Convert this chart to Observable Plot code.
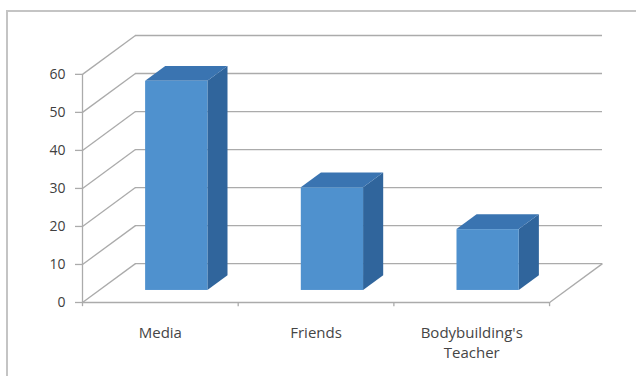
<!DOCTYPE html>
<html>
<head>
<meta charset="utf-8">
<script src="https://cdn.jsdelivr.net/npm/d3@7"></script>
<script src="https://cdn.jsdelivr.net/npm/@observablehq/plot@0.6"></script>
<style>
  html, body { margin: 0; padding: 0; background: #fff; overflow: hidden; }
  #wrap { position: relative; width: 636px; height: 376px; }
  #border { position: absolute; left: 6px; top: 10px; width: 700px; height: 500px;
            border: 2px solid #C4C4C4; box-sizing: border-box; }
  #chart { position: absolute; left: 0; top: 0; }
</style>
</head>
<body>
<div id="wrap"><div id="border"></div><div id="chart"></div></div>
<script>
// ---- data ----
const categories = ["Media", "Friends", "Bodybuilding's\nTeacher"];
const values = [55, 27, 16];
const yTicks = [0, 10, 20, 30, 40, 50, 60];

// ---- 3D projection settings (x in category units, y in value units) ----
const D = 0.34;     // full depth, x offset
const H = 10.22;    // full depth, y offset
const f0 = 0.31, f1 = 0.69; // bar depth slice
const hw = 0.2;     // half bar width

const bars = categories.map((c, i) => ({c, i, v: values[i]}));
const fronts = bars.map(b => ({c: b.c, x1: b.i - hw + f0 * D, x2: b.i + hw + f0 * D, y1: f0 * H, y2: b.v + f0 * H}));
const sides = bars.flatMap(b => [f0, f1].map(f => ({c: b.c, x: b.i + hw + f * D, y1: f * H, y2: b.v + f * H})));
const tops = bars.flatMap(b => [f0, f1].map(f => ({c: b.c, y: b.v + f * H, x1: b.i - hw + f * D, x2: b.i + hw + f * D})));
const boundaries = d3.range(-0.5, categories.length, 1);

const grid = "#ABABAB";
const chart = Plot.plot({
  width: 636,
  height: 376,
  marginLeft: 82,
  marginRight: 34,
  marginTop: 35,
  marginBottom: 74,
  style: {background: "transparent", overflow: "visible"},
  x: {type: "linear", domain: [-0.5, categories.length - 0.5 + D], axis: null},
  y: {type: "linear", domain: [0, 60 + H], axis: null},
  marks: [
    // back wall gridlines
    Plot.ruleY(yTicks, {y: t => t + H, x1: -0.5 + D, x2: categories.length - 0.5 + D, stroke: grid, strokeWidth: 1.3}),
    // side wall gridlines
    Plot.link(yTicks, {x1: -0.5, y1: t => t, x2: -0.5 + D, y2: t => t + H, stroke: grid, strokeWidth: 1.3}),
    // floor front edge and right edge
    Plot.ruleY([0], {x1: -0.5, x2: categories.length - 0.5, stroke: grid, strokeWidth: 1.3}),
    Plot.link([0], {x1: categories.length - 0.5, y1: 0, x2: categories.length - 0.5 + D, y2: H, stroke: grid, strokeWidth: 1.3}),
    // y axis line and ticks
    Plot.ruleX([-0.5], {y1: 0, y2: 60, stroke: grid, strokeWidth: 1.3}),
    Plot.ruleY(yTicks, {y: t => t, x1: -0.5 - 0.045, x2: -0.5, stroke: grid, strokeWidth: 1.3}),
    Plot.ruleX(boundaries, {x: d => d, y1: 0, y2: -1.1, stroke: grid, strokeWidth: 1.3}),
    Plot.text(yTicks, {x: -0.5, y: t => t, text: t => String(t), dx: -17, textAnchor: "end",
      fontSize: 14, fill: "#404040", fontFamily: "Open Sans"}),
    // bars: front, side, top faces
    Plot.areaY(sides, {x: "x", y1: "y1", y2: "y2", z: "c", fill: "#30659C"}),
    Plot.areaX(tops, {y: "y", x1: "x1", x2: "x2", z: "c", fill: "#3A74B1"}),
    Plot.rect(fronts, {x1: "x1", x2: "x2", y1: "y1", y2: "y2", fill: "#4F91CE"}),
    // category labels
    Plot.text(bars, {x: "i", y: 0, text: "c", dy: 21, lineAnchor: "top", lineHeight: 1.33,
      fontSize: 15, fill: "#454545", fontFamily: "Open Sans"})
  ]
});
document.getElementById("chart").appendChild(chart);
</script>
</body>
</html>
